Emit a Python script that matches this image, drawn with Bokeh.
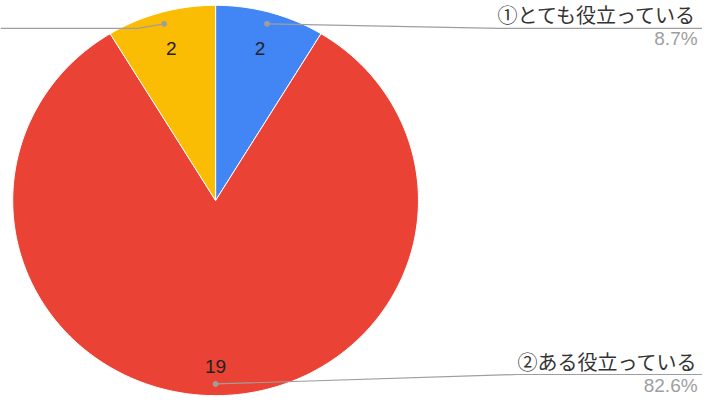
import numpy as np
from bokeh.plotting import figure
from bokeh.models import Range1d
from bokeh.core.properties import value
from bokeh.embed import file_html
from bokeh.resources import INLINE

# ---- data ----
labels = ["①とても役立っている", "②ある役立っている", "③あまり役立っていない"]
counts = [2, 19, 2]
colors = ["#4285F4", "#EA4335", "#FBBC04"]

total = sum(counts)
pcts = [f"{c / total * 100:.1f}%" for c in counts]

# ---- layout (reference pixel coordinates, 718 x 415) ----
W, H = 702, 399
cx, cy = 220, 208
rx, ry = 207.5, 203
value_r = [0.81, 0.85, 0.81]
dot_r = 0.94

p = figure(width=W, height=H, output_backend="svg", toolbar_location=None,
           x_range=Range1d(0, 718), y_range=Range1d(415, 0),
           min_border=0, outline_line_color=None)
p.axis.visible = False
p.grid.visible = False
p.background_fill_color = "white"

# slices, clockwise from 12 o'clock (y axis points down)
start = 0.0
xs, ys, mids = [], [], []
for c in counts:
    frac = c / total
    a0, a1 = start, start + frac * 2 * np.pi
    t = np.linspace(a0, a1, max(8, int(frac * 400)))
    px = np.concatenate([[cx], cx + rx * np.sin(t)])
    py = np.concatenate([[cy], cy - ry * np.cos(t)])
    xs.append(list(px))
    ys.append(list(py))
    mids.append((a0 + a1) / 2)
    start = a1

p.patches(xs, ys, fill_color=colors, line_color="white", line_width=1)

# value labels
vx = [cx + f * rx * np.sin(m) for f, m in zip(value_r, mids)]
vy = [cy - f * ry * np.cos(m) for f, m in zip(value_r, mids)]
p.text(vx, vy, text=[str(c) for c in counts], text_align="center",
       text_baseline="middle", text_font=value("Liberation Sans"),
       text_font_size="19px", text_color="#222222")

# leader dots
dx = [cx + dot_r * rx * np.sin(m) for m in mids]
dy = [cy - dot_r * ry * np.cos(m) for m in mids]
line_col = "#9e9e9e"

# leader layouts: (kink x, line y, end x)
leader = [(510, 29, 718), (528, 389, 718), (140, 29, 0)]
for i in range(3):
    kx, ly, ex = leader[i]
    p.line([dx[i], kx, ex], [dy[i], ly, ly], line_color=line_col, line_width=1.2)
p.scatter(dx, dy, size=5, fill_color=line_col, line_color=line_col)

# right side labels (first two slices)
label_x = 713
for i, (ty, py_) in zip([0, 1], [(15, 40), (375, 400)]):
    p.text([label_x], [ty], text=[labels[i]], text_align="right",
           text_baseline="middle", text_font=value("Noto Sans CJK JP"),
           text_font_size="20px", text_color="#333333")
    p.text([label_x], [py_], text=[pcts[i]], text_align="right",
           text_baseline="middle", text_font=value("Liberation Sans"),
           text_font_size="19px", text_color="#9e9e9e")

open("out.html", "w").write(file_html(p, INLINE))
